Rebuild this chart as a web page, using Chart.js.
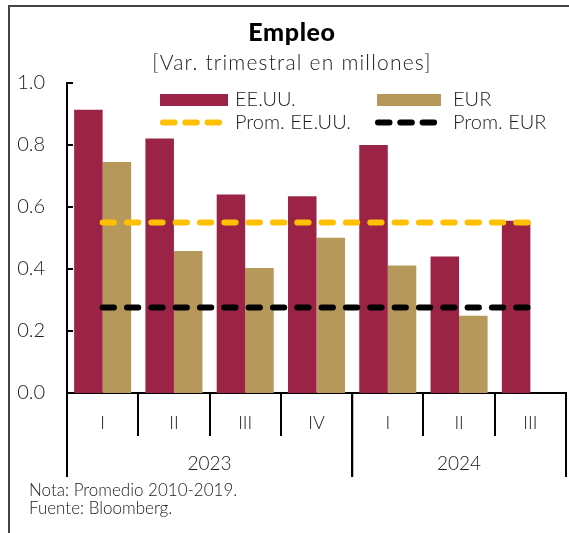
<!DOCTYPE html>
<html>
<head>
<meta charset="utf-8">
<title>Empleo</title>
<script src="https://cdn.jsdelivr.net/npm/chart.js@4.4.1/dist/chart.umd.min.js"></script>
<style>
  body { margin: 0; background: #fff; }
  #wrap { position: relative; width: 569px; height: 533px; }
</style>
</head>
<body>
<div id="wrap">
  <canvas id="myChart" width="569" height="533"></canvas>
</div>
<script>
// data
var quarters = ['I', 'II', 'III', 'IV', 'I', 'II', 'III'];
var years = ['2023', '2024'];
var quartersPerYear = [4, 3];
var usValues = [0.914, 0.821, 0.640, 0.635, 0.800, 0.440, 0.556];
var eurValues = [0.745, 0.458, 0.403, 0.501, 0.411, 0.249, null];
var usAverage = [0.55, 0.55, 0.55, 0.55, 0.55, 0.55, 0.55];
var eurAverage = [0.276, 0.276, 0.276, 0.276, 0.276, 0.276, 0.276];
var yTicks = [0, 0.2, 0.4, 0.6, 0.8, 1.0];

var titleText = 'Empleo';
var subtitleText = '[Var. trimestral en millones]';
var notes = ['Nota: Promedio 2010-2019.', 'Fuente: Bloomberg.'];

var maroon = '#9b2346';
var tan = '#b5985a';
var yellow = '#ffc000';
var ink = '#1a1a1a';
var light = 'Lato, "Open Sans", sans-serif';

// frame, title, legend, year row and small y ticks
var extras = {
  id: 'extras',
  afterDraw: function(chart) {
    var ctx = chart.ctx;
    var x = chart.scales.x;
    var y = chart.scales.y;
    ctx.save();

    // frame lines (left and top)
    ctx.strokeStyle = '#444';
    ctx.lineWidth = 2;
    ctx.beginPath();
    ctx.moveTo(9, 533);
    ctx.lineTo(9, 6);
    ctx.lineTo(569, 6);
    ctx.stroke();

    // title + subtitle (the original font is wider, so a bit of spacing)
    ctx.fillStyle = '#000';
    ctx.textAlign = 'center';
    ctx.textBaseline = 'middle';
    ctx.font = '900 25px ' + light;
    ctx.letterSpacing = '0.6px';
    ctx.fillText(titleText, 292, 33);
    ctx.fillStyle = ink;
    ctx.font = '300 21px ' + light;
    ctx.letterSpacing = '1.2px';
    ctx.fillText(subtitleText, 292, 63);
    ctx.letterSpacing = '0px';

    // y ticks pointing inside
    ctx.strokeStyle = '#000';
    ctx.lineWidth = 2;
    y.ticks.forEach(function(t) {
      var py = y.getPixelForValue(t.value);
      ctx.beginPath();
      ctx.moveTo(y.right, py);
      ctx.lineTo(y.right + 6, py);
      ctx.stroke();
    });

    // year separators and labels
    var step = x.getPixelForValue(1) - x.getPixelForValue(0);
    var start = 0;
    ctx.font = '300 19px ' + light;
    ctx.fillStyle = ink;
    for (var i = 0; i < years.length; i++) {
      var left = x.getPixelForValue(start) - step / 2;
      var right = x.getPixelForValue(start + quartersPerYear[i] - 1) + step / 2;
      [left, right].forEach(function(px) {
        ctx.beginPath();
        ctx.moveTo(px, x.top);
        ctx.lineTo(px, 477);
        ctx.stroke();
      });
      ctx.fillText(years[i], (left + right) / 2, 464);
      start += quartersPerYear[i];
    }

    // legend
    ctx.textAlign = 'left';
    ctx.font = '300 20px ' + light;
    ctx.fillStyle = maroon;
    ctx.fillRect(160, 94, 68, 12);
    ctx.fillStyle = tan;
    ctx.fillRect(377, 94, 64, 12);
    ctx.lineWidth = 6;
    ctx.lineCap = 'round';
    [[yellow, 163], ['#000', 378]].forEach(function(item) {
      ctx.strokeStyle = item[0];
      for (var k = 0; k < 3; k++) {
        ctx.beginPath();
        ctx.moveTo(item[1] + k * 22.3, 122.5);
        ctx.lineTo(item[1] + k * 22.3 + 11.5, 122.5);
        ctx.stroke();
      }
    });
    ctx.fillStyle = ink;
    ctx.fillText('EE.UU.', 235, 100);
    ctx.fillText('EUR', 453, 100);
    ctx.fillText('Prom. EE.UU.', 235, 123);
    ctx.fillText('Prom. EUR', 453, 123);

    // notes
    ctx.font = '300 17px ' + light;
    ctx.fillText(notes[0], 29, 491);
    ctx.fillText(notes[1], 29, 509);
    ctx.restore();
  }
};

var ctx = document.getElementById('myChart').getContext('2d');
var myChart = new Chart(ctx, {
  type: 'bar',
  data: {
    labels: quarters,
    datasets: [
      { label: 'EE.UU.', data: usValues, backgroundColor: maroon, order: 2 },
      { label: 'EUR', data: eurValues, backgroundColor: tan, order: 2 },
      {
        type: 'line', label: 'Prom. EE.UU.', data: usAverage,
        borderColor: yellow, borderWidth: 6, borderDash: [11.3, 13.03],
        borderCapStyle: 'round', pointRadius: 0, fill: false, order: 1
      },
      {
        type: 'line', label: 'Prom. EUR', data: eurAverage,
        borderColor: '#000', borderWidth: 6, borderDash: [11.3, 13.03],
        borderCapStyle: 'round', pointRadius: 0, fill: false, order: 1
      }
    ]
  },
  options: {
    responsive: false,
    animation: false,
    layout: { padding: { top: 83, right: 3, left: 0, bottom: 0 } },
    datasets: { bar: { categoryPercentage: 0.8, barPercentage: 1.0 } },
    plugins: {
      legend: { display: false },
      tooltip: { enabled: false },
      title: { display: false }
    },
    scales: {
      x: {
        offset: true,
        grid: { display: true, drawOnChartArea: false, color: '#000', lineWidth: 2, tickLength: 43, offset: true },
        border: { display: true, color: '#000', width: 2 },
        ticks: { color: ink, padding: -24, font: { family: light, size: 18, weight: 300 } },
        afterFit: function(s) { s.height = 140; }
      },
      y: {
        min: 0,
        max: 1,
        grid: { display: false, drawTicks: false },
        border: { display: true, color: '#000', width: 2 },
        afterBuildTicks: function(s) { s.ticks = yTicks.map(function(v) { return { value: v }; }); },
        ticks: {
          color: ink,
          padding: 22,
          font: { family: light, size: 20, weight: 300 },
          callback: function(v) { return Number(v).toFixed(1); }
        },
        afterFit: function(s) { s.width = 67; }
      }
    }
  },
  plugins: [extras]
});
</script>
</body>
</html>
